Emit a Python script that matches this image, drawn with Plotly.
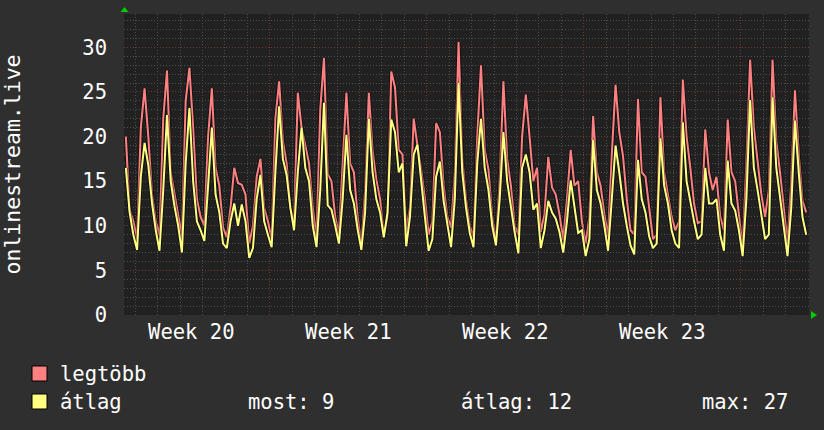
import pandas as pd
import plotly.graph_objects as go

# ---- data (4-hour samples, centred on each interval, starting 2023-05-15 14:00) ----
start_time = "2023-05-15 14:00"
step = "4h"

legtobb = [
    20, 11.8, 10.5, 8.5, 21, 25.4, 20, 13.5, 10.5, 8.9,
    22, 27.4, 16, 13.5, 11, 8.8, 24, 27.7, 21, 13,
    11, 10, 20, 25.4, 16.5, 14.5, 9.8, 8.7, 12, 16.5,
    14.8, 14.6, 13.5, 8, 10, 15.5, 17.5, 12, 10.5, 8.5,
    22, 26.2, 19.5, 17, 12, 10.3, 24.9, 21, 19, 17,
    12, 8.6, 23, 28.8, 15.8, 15, 11, 9, 17, 24.9,
    17, 16, 11, 7.7, 14, 24.9, 18.4, 15.2, 13, 9,
    11, 27.3, 25.5, 18.5, 18, 9.5, 12, 22, 19, 16.3,
    13, 9, 10.5, 21.5, 20.5, 14.5, 11, 9.8, 16, 30.6,
    17.5, 13, 10, 8.7, 20, 28, 18.5, 16.3, 11, 8.3,
    15, 26.2, 17.5, 14.5, 10, 9, 20, 24.7, 20, 15,
    16.5, 9.3, 11.3, 17.7, 14.3, 13.5, 11.3, 8.4, 13, 18.5,
    14.5, 15, 10.5, 8, 11, 22.3, 16, 14.5, 11.3, 8.8,
    18, 25.8, 20.5, 17.8, 13, 9.5, 9, 24.2, 16, 15.5,
    12, 8.5, 9, 24.4, 16, 13.5, 11, 9.5, 10.5, 26.4,
    20, 16.5, 12.5, 10.3, 10.5, 20.8, 16, 14, 15.5, 11,
    9.5, 21.9, 16, 15, 11, 7.5, 17, 28.6, 21, 17.5,
    13.5, 11, 14, 28.6, 19.5, 16, 12, 8, 15, 25.2,
    18, 12.8, 11.5,
]

atlag = [
    16.5, 11.5, 9, 7.3, 15.5, 19.3, 16.8, 12.5, 9.5, 7.2,
    14, 22.4, 15, 12.2, 10, 7, 17, 23.2, 15, 10.5,
    9.5, 8.3, 14.5, 21, 13.5, 11.5, 8, 7.5, 10.5, 12.5,
    10, 12.4, 10.5, 6.4, 7.5, 13, 15.7, 10.5, 9, 7.6,
    16, 23.4, 17.5, 15.7, 12, 9.5, 16, 21, 16.5, 15,
    10, 7.6, 14, 23.8, 12.3, 11.8, 10, 8, 13, 20.2,
    14, 12.5, 9.6, 7.3, 11.5, 22, 16, 13, 11.5, 8.7,
    11.5, 21.9, 20.5, 16, 17, 7.7, 11, 18, 19.1, 14.6,
    11, 7.2, 8.5, 15.5, 17.2, 12.8, 10, 7.6, 13, 26,
    16, 12, 9.2, 7.6, 17, 22, 16.5, 14, 10, 7.8,
    13, 20.5, 15, 12, 9.3, 6.9, 16.5, 18, 16, 11.8,
    12.5, 7.5, 9.5, 12.8, 11.5, 10.8, 9.3, 7, 10.5, 15.1,
    12, 9.2, 9.5, 6.6, 8.5, 19.6, 14, 12.5, 10, 7.2,
    13, 19, 16, 12.5, 10, 7.8, 6.8, 17.4, 13, 11.5,
    8.8, 7.5, 8, 19.8, 14.5, 12.5, 9.5, 8, 7.5, 21.6,
    15, 12.5, 10.5, 8.5, 9, 16.5, 12.5, 12.5, 13, 9,
    7.2, 17.3, 12.5, 11.7, 9.5, 6.6, 13, 24.1, 16.5, 14,
    11, 8.5, 9, 24.4, 16.5, 13, 10, 6.6, 12, 21.8,
    16, 11, 9,
]

week_label_format = "Week %V"
legend_names = ["legtöbb", "átlag"]
stat_texts = ["most: 9", "átlag: 12", "max: 27"]
y_title = "onlinestream.live"

n = min(len(legtobb), len(atlag))
times = pd.date_range(start_time, periods=n, freq=step)

RED = "#ff8080"
YEL = "#ffff80"
PAPER = "#2f2f2f"
PLOT = "#212121"
FONT = "DejaVu Sans Mono"
FS = 20.5

fig = go.Figure()
for vals, col, name in [(legtobb[:n], RED, legend_names[0]), (atlag[:n], YEL, legend_names[1])]:
    fig.add_trace(go.Scatter(x=times, y=vals, mode="lines", line=dict(color="rgba(0,0,0,0.45)", width=4),
                             hoverinfo="skip", showlegend=False))
    fig.add_trace(go.Scatter(x=times, y=vals, mode="lines", name=name, line=dict(color=col, width=2),
                             showlegend=False))

fig.update_layout(
    width=824, height=430,
    margin=dict(l=124, r=15, t=14, b=115),
    paper_bgcolor=PAPER, plot_bgcolor=PLOT,
    font=dict(family=FONT, size=FS, color="#ffffff"),
    showlegend=False,
)

fig.update_xaxes(
    type="date",
    range=["2023-05-15 12:00", "2023-06-15 01:00"],
    tick0="2023-05-22", dtick=7 * 86400000,
    ticklabelmode="period", tickformat=week_label_format,
    ticks="", ticklabelstandoff=2,
    showgrid=True, gridcolor="#7a3434", griddash="1px,2px", gridwidth=1,
    minor=dict(tick0="2023-05-16", dtick=86400000, showgrid=True, gridcolor="#4e4e4e", griddash="1px,2px", gridwidth=1),
    zeroline=False, showline=False,
    tickfont=dict(family=FONT, size=FS, color="#ffffff"),
)
fig.update_yaxes(
    range=[0, 33.74], tick0=0, dtick=5,
    ticks="", ticklabelstandoff=16,
    showgrid=True, gridcolor="#7a3434", griddash="1px,2px", gridwidth=1,
    minor=dict(dtick=1, showgrid=True, gridcolor="#4e4e4e", griddash="1px,2px", gridwidth=1),
    zeroline=False, showline=False,
    tickfont=dict(family=FONT, size=FS, color="#ffffff"),
)

PW, PH, L, B = 685.0, 301.0, 124.0, 315.0
def px(x):
    return (x - L) / PW
def py(y):
    return (B - y) / PH

shapes = []
for (y0, y1), col in [((366, 381), RED), ((394, 409), YEL)]:
    shapes.append(dict(type="rect", xref="paper", yref="paper", x0=px(32), x1=px(47), y0=py(y1), y1=py(y0),
                       fillcolor=col, line=dict(color="#000000", width=1)))
shapes.append(dict(type="path", xref="paper", yref="paper",
                   path=f"M {px(120.5)} {py(12)} L {px(128.5)} {py(12)} L {px(124.5)} {py(7)} Z",
                   fillcolor="#00cc00", line=dict(width=0)))
shapes.append(dict(type="path", xref="paper", yref="paper",
                   path=f"M {px(811)} {py(311)} L {px(811)} {py(319)} L {px(817)} {py(315)} Z",
                   fillcolor="#00cc00", line=dict(width=0)))
fig.update_layout(shapes=shapes)

ann = [
    dict(text=y_title, x=px(12), y=0.5, textangle=-90, size=21.5),
    dict(text=legend_names[0], x=px(58), y=py(374), xanchor="left"),
    dict(text=legend_names[1], x=px(58), y=py(402), xanchor="left"),
    dict(text=stat_texts[0], x=px(246), y=py(402), xanchor="left"),
    dict(text=stat_texts[1], x=px(459), y=py(402), xanchor="left"),
    dict(text=stat_texts[2], x=px(700), y=py(402), xanchor="left"),
]
for a in ann:
    a.setdefault("xanchor", "center")
    size = a.pop("size", FS)
    fig.add_annotation(xref="paper", yref="paper", showarrow=False, yanchor="middle",
                       font=dict(family=FONT, size=size, color="#ffffff"), **a)

fig.write_html("out.html")
